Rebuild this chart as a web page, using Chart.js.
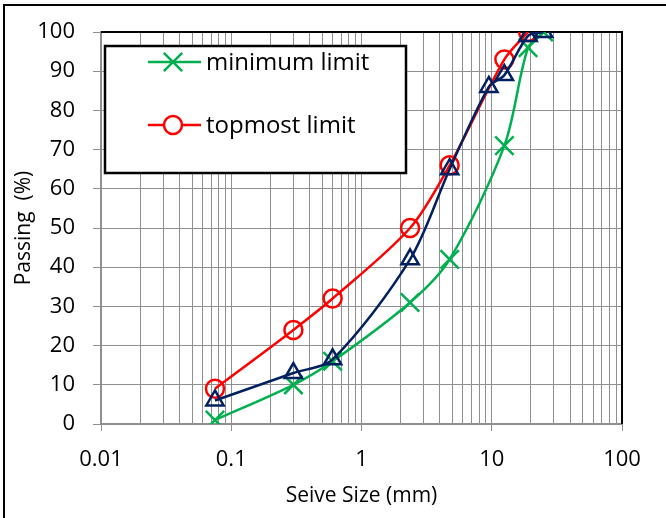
<!DOCTYPE html>
<html>
<head>
<meta charset="utf-8">
<script src="https://cdn.jsdelivr.net/npm/chart.js@4"></script>
<style>
  html, body { margin: 0; padding: 0; background: #fff; }
  #wrap { width: 666px; height: 518px; position: relative; }
</style>
</head>
<body>
<div id="wrap"><canvas id="grafico" width="666" height="518"></canvas></div>
<script>
// sieve sizes (mm) and passing (%)
const sieveSizes = [0.075, 0.3, 0.6, 2.36, 4.75, 12.5, 19, 25];
const minimumLimit = [1, 10, 16, 31, 42, 71, 96, 100];
const topmostSizes = [0.075, 0.3, 0.6, 2.36, 4.75, 12.5, 19];
const topmostLimit = [9, 24, 32, 50, 66, 93, 100];
const sampleSizes = [0.075, 0.3, 0.6, 2.36, 4.75, 9.5, 12.5, 19, 25];
const samplePassing = [6, 13, 16.5, 42, 65, 86, 89, 99, 100];

const xTickLabels = ['0.01', '0.1', '1', '10', '100'];
const yTicks = [0, 10, 20, 30, 40, 50, 60, 70, 80, 90, 100];

const GREEN = '#00B050', RED = '#FF0000', NAVY = '#002060';
const FONT = '"Open Sans", sans-serif';

function pts(xs, ys) {
    return xs.map((x, i) => ({ x: x, y: ys[i] }));
}

// gridline values 1..9 x 10^n for every decade
const decades = xTickLabels.map(Number);
const gridValues = [];
decades.forEach((d, i) => {
    if (i === decades.length - 1) { gridValues.push(d); return; }
    for (let k = 1; k <= 9; k++) gridValues.push(+(d * k).toPrecision(3));
});

const legendItems = [
    { text: 'minimum limit', color: GREEN, style: 'crossRot', radius: 13 },
    { text: 'topmost limit', color: RED, style: 'circle', radius: 9 }
];

const extras = {
    id: 'extras',
    beforeDraw(chart) {
        const ctx = chart.ctx;
        ctx.save();
        ctx.fillStyle = '#000';
        ctx.fillRect(3, 4, 2, 518);   // outer frame left
        ctx.fillRect(3, 4, 666, 2);   // outer frame top
        ctx.restore();
    },
    beforeDatasetsDraw(chart) {
        const { ctx, chartArea: a } = chart;
        ctx.save();
        ctx.strokeStyle = '#000';
        ctx.lineWidth = 2;
        ctx.beginPath();
        ctx.moveTo(a.left, a.top);
        ctx.lineTo(a.right, a.top);
        ctx.lineTo(a.right, a.bottom);
        ctx.stroke();

        // legend box
        ctx.fillStyle = '#fff';
        ctx.fillRect(105, 46, 301, 127);
        ctx.lineWidth = 2.5;
        ctx.strokeRect(105, 46, 301, 127);
        ctx.restore();
    },
    afterDatasetsDraw(chart) {
        const ctx = chart.ctx;
        ctx.save();
        ctx.font = '24px ' + FONT;
        ctx.textBaseline = 'middle';
        legendItems.forEach((it, i) => {
            const y = 62 + i * 63;
            ctx.strokeStyle = it.color;
            ctx.lineWidth = 2.5;
            ctx.beginPath();
            ctx.moveTo(148, y);
            ctx.lineTo(201, y);
            ctx.stroke();
            ctx.fillStyle = '#fff';
            Chart.helpers.drawPoint(ctx, { pointStyle: it.style, radius: it.radius, borderWidth: 2.5 }, 173, y);
            ctx.fillStyle = '#000';
            ctx.fillText(it.text, 206, y + 1);
        });
        ctx.restore();
    }
};

const ctx = document.getElementById('grafico').getContext('2d');
new Chart(ctx, {
    type: 'line',
    data: {
        datasets: [
            {
                label: 'minimum limit',
                data: pts(sieveSizes, minimumLimit),
                borderColor: GREEN,
                backgroundColor: 'transparent',
                borderWidth: 2.5,
                pointStyle: 'crossRot',
                pointRadius: 13,
                pointBorderWidth: 2.5,
                pointBorderColor: GREEN,
                tension: 0.3,
                order: 3
            },
            {
                label: 'topmost limit',
                data: pts(topmostSizes, topmostLimit),
                borderColor: RED,
                backgroundColor: 'transparent',
                borderWidth: 2.5,
                pointStyle: 'circle',
                pointRadius: 9,
                pointBorderWidth: 2.5,
                pointBorderColor: RED,
                pointBackgroundColor: 'transparent',
                tension: 0.3,
                order: 2
            },
            {
                label: 'sample',
                data: pts(sampleSizes, samplePassing),
                borderColor: NAVY,
                backgroundColor: 'transparent',
                borderWidth: 2.5,
                pointStyle: 'triangle',
                pointRadius: 10,
                pointBorderWidth: 2.5,
                pointBorderColor: NAVY,
                pointBackgroundColor: 'transparent',
                tension: 0.3,
                order: 1
            }
        ]
    },
    options: {
        responsive: false,
        animation: false,
        events: [],
        layout: { padding: { top: 32, right: 44, left: 0, bottom: 0 } },
        plugins: {
            legend: { display: false },
            tooltip: { enabled: false }
        },
        scales: {
            x: {
                type: 'logarithmic',
                min: 0.01,
                max: 100,
                afterBuildTicks: (scale) => {
                    scale.ticks = gridValues.map(v => ({ value: v, major: decades.includes(v) }));
                },
                afterFit: (scale) => { scale.height = 94; },
                ticks: {
                    autoSkip: false,
                    maxRotation: 0,
                    padding: 16,
                    color: '#000',
                    font: { family: FONT, size: 22 },
                    callback: function (value) {
                        const i = decades.indexOf(value);
                        return i >= 0 ? xTickLabels[i] : '';
                    }
                },
                grid: {
                    color: '#8f8f8f',
                    lineWidth: 1,
                    tickLength: 7,
                    tickColor: (c) => (c.tick && decades.includes(c.tick.value)) ? '#8f8f8f' : 'transparent'
                },
                border: { color: '#8f8f8f', width: 2 },
                title: {
                    display: true,
                    text: 'Seive Size (mm)',
                    color: '#000',
                    font: { family: FONT, size: 21 },
                    padding: { top: 0, bottom: 9 }
                }
            },
            y: {
                min: 0,
                max: 100,
                afterBuildTicks: (scale) => {
                    scale.ticks = yTicks.map(v => ({ value: v }));
                },
                afterFit: (scale) => { scale.width = 101; },
                ticks: {
                    padding: 18,
                    color: '#000',
                    font: { family: FONT, size: 22 }
                },
                grid: {
                    color: '#8f8f8f',
                    lineWidth: 1,
                    tickLength: 8
                },
                border: { color: '#8f8f8f', width: 2 },
                title: {
                    display: true,
                    text: 'Passing  (%)',
                    color: '#000',
                    font: { family: FONT, size: 21 },
                    padding: { top: 11, bottom: 0 }
                }
            }
        }
    },
    plugins: [extras]
});
</script>
</body>
</html>
